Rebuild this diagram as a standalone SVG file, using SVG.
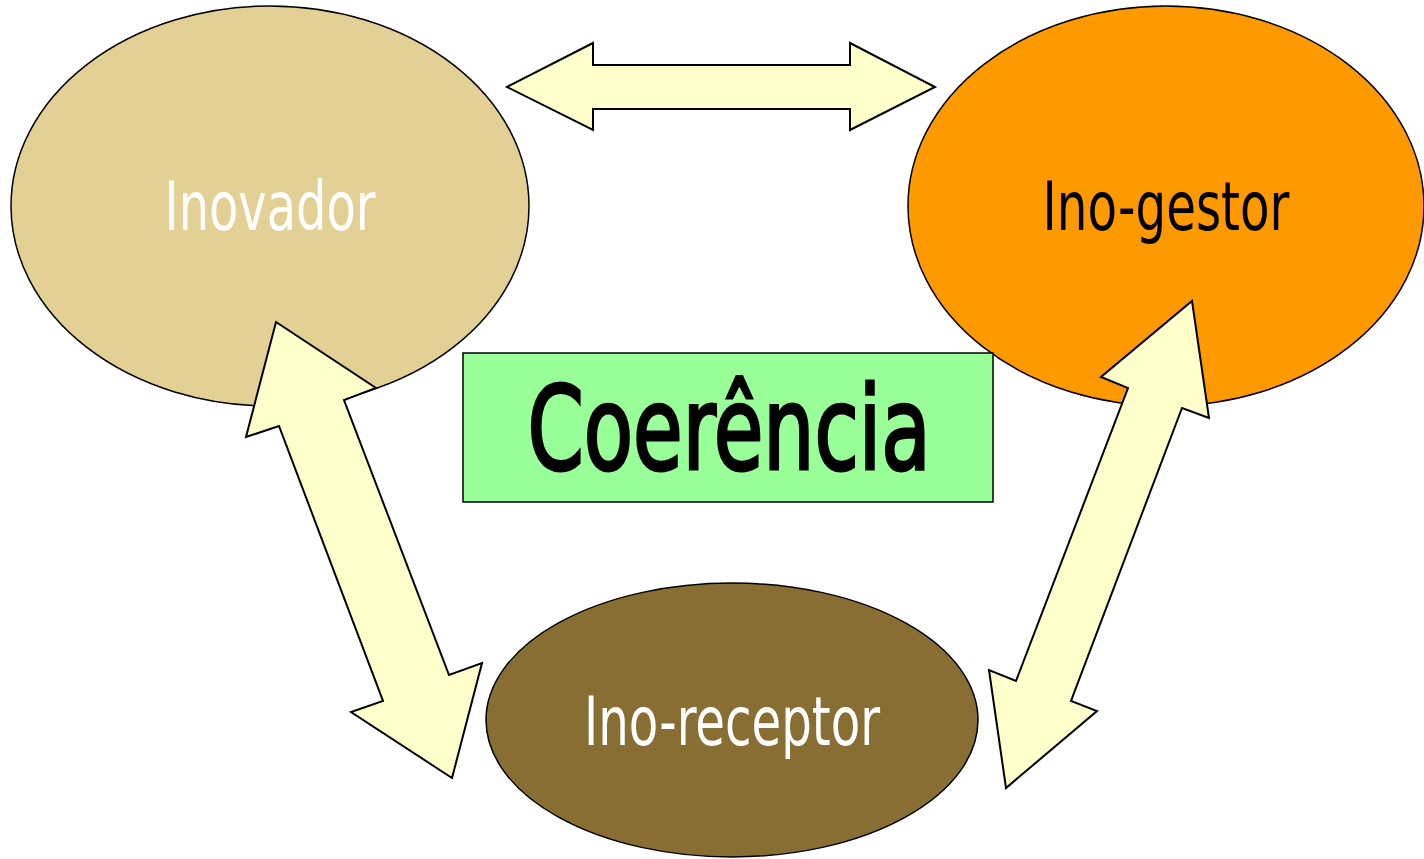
<svg xmlns="http://www.w3.org/2000/svg" width="1424" height="859" viewBox="0 0 1424 859">
<style>
.node{stroke:#000;stroke-width:1.5}
.arrow{fill:#FFFFCC;stroke:#000;stroke-width:2;stroke-linejoin:miter}
.lbl{font-family:"Liberation Sans Narrow","DejaVu Sans Condensed","Liberation Sans",sans-serif;text-anchor:middle}
</style>
<rect width="1424" height="859" fill="#fff"/>
<g id="inovador">
<ellipse class="node" cx="270" cy="206" rx="259" ry="200" fill="#E3D095"/>
<text class="lbl" x="270" y="230" font-size="68" fill="#fff" textLength="211" lengthAdjust="spacingAndGlyphs">Inovador</text>
</g>
<g id="ino-gestor">
<ellipse class="node" cx="1166" cy="206" rx="258" ry="200" fill="#FF9900"/>
<text class="lbl" x="1166" y="230" font-size="68" fill="#000" textLength="247" lengthAdjust="spacingAndGlyphs">Ino-gestor</text>
</g>
<g id="ino-receptor">
<ellipse class="node" cx="732" cy="720" rx="246" ry="137" fill="#886E33"/>
<text class="lbl" x="732" y="745" font-size="68" fill="#fff" textLength="296" lengthAdjust="spacingAndGlyphs">Ino-receptor</text>
</g>
<g id="coerencia">
<rect class="node" x="463" y="353" width="530" height="149" fill="#99FF99"/>
<text class="lbl" x="729" y="469" font-size="116" fill="#000" stroke="#000" stroke-width="3" textLength="403" lengthAdjust="spacingAndGlyphs">Coerência</text>
</g>
<g id="connectors">
<polygon class="arrow" points="507,87 593,43 593,65 850,65 850,43 935,87 850,130 850,109 593,109 593,130"/>
<polygon class="arrow" points="276,322 376,388 344,400 449,675 482,663 452,778 351,712 383,701 279,426 246,437"/>
<polygon class="arrow" points="1192,301 1209,418 1182,408 1071,701 1097,711 1006,788 989,670 1016,681 1128,388 1101,377"/>
</g>
</svg>
